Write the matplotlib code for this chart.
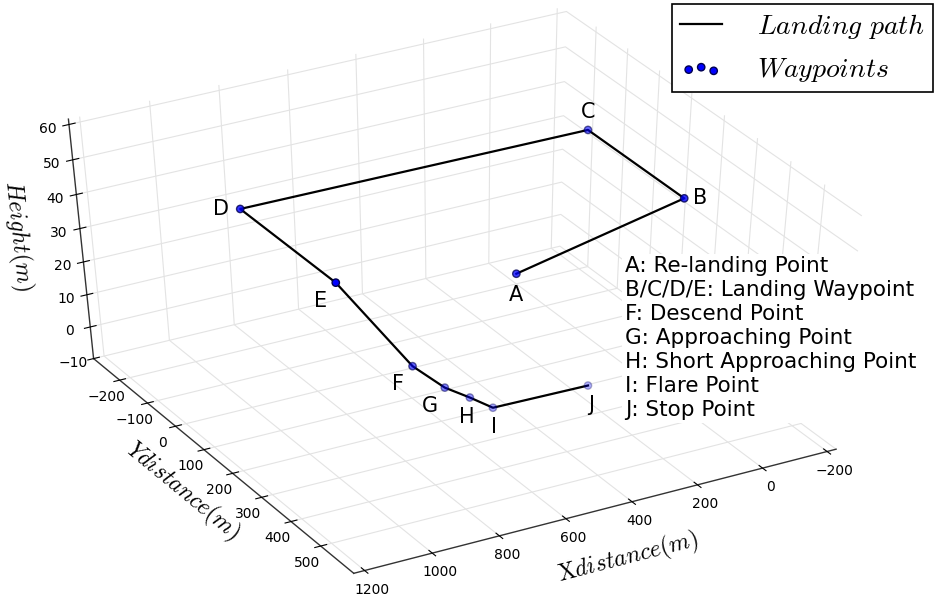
import matplotlib
matplotlib.use('Agg')
import numpy as np
from matplotlib import pyplot as plt
from mpl_toolkits.mplot3d import proj3d

plt.rcParams['mathtext.fontset'] = 'cm'
plt.rcParams['font.family'] = 'DejaVu Sans'
plt.rcParams['grid.color'] = '#e3e3e3'
plt.rcParams['grid.linewidth'] = 0.8

# waypoints A..J (landing path order)
labels = ['A', 'B', 'C', 'D', 'E', 'F', 'G', 'H', 'I', 'J']
x_dist = [470, 0, 0, 1000, 990, 775, 680, 605, 535, 250]
y_dist = [300, 320, 20, 0, 300, 300, 300, 300, 300, 305]
height = [39, 51, 51, 50, 49, 19, 10, 5, 0, 0]

descriptions = ['A: Re-landing Point',
                'B/C/D/E: Landing Waypoint',
                'F: Descend Point',
                'G: Approaching Point',
                'H: Short Approaching Point',
                'I: Flare Point',
                'J: Stop Point']

# label offsets in points (dx, dy, ha, va)
label_offsets = {'A': (0, -8, 'center', 'top'),
                 'B': (6, 0, 'left', 'center'),
                 'C': (0, 6, 'center', 'bottom'),
                 'D': (-8, 0, 'right', 'center'),
                 'E': (-6, -6, 'right', 'top'),
                 'F': (-6, -6, 'right', 'top'),
                 'G': (-5, -6, 'right', 'top'),
                 'H': (-2, -7, 'center', 'top'),
                 'I': (1, -7, 'center', 'top'),
                 'J': (2, -7, 'center', 'top')}

fig = plt.figure(figsize=(9.37, 6.15), dpi=100)
ax = fig.add_axes([-0.1706, -0.0586, 1.29, 1.15], projection='3d')
# let the 3d box stretch with the axes rectangle (old mpl look)
ax.apply_aspect = lambda position=None: None

ax.plot(x_dist, y_dist, height, color='black', linewidth=1.6, label=r'$Landing\ path$')
ax.scatter(x_dist, y_dist, height, color='blue', edgecolor='#000050', s=28,
           depthshade=True, label=r'$Waypoints$')

ax.set_xlim(-228, 1232)
ax.set_ylim(-295, 610)
ax.set_zlim(-10, 61.5)
ax.set_xticks(np.arange(-200, 1201, 200))
ax.set_yticks(np.arange(-200, 501, 100))
ax.set_zticks(np.arange(-10, 61, 10))
ax.tick_params(labelsize=10, pad=2)

ax.set_xlabel(r'$\mathrm{X}distance(m)$', fontsize=17, labelpad=18)
ax.set_ylabel(r'$Ydistance(m)$', fontsize=17, labelpad=8)
ax.set_zlabel(r'$Height(m)$', fontsize=17, labelpad=10)

for axis in (ax.xaxis, ax.yaxis, ax.zaxis):
    axis.set_pane_color((1, 1, 1, 0))
    axis.line.set_color('#333333')
    axis.line.set_linewidth(1.0)
    axis._axinfo['tick']['inward_factor'] = 0.15
    axis._axinfo['tick']['outward_factor'] = 0.15

ax.view_init(elev=47, azim=60.5)
ax.set_box_aspect((1, 1, 1.063), zoom=0.8)

# point labels
M = ax.get_proj()
for lab, xv, yv, zv in zip(labels, x_dist, y_dist, height):
    px, py, _ = proj3d.proj_transform(xv, yv, zv, M)
    dx, dy, ha, va = label_offsets[lab]
    ax.annotate(lab, xy=(px, py), xytext=(dx, dy), textcoords='offset points',
                ha=ha, va=va, fontsize=15)

fig.text(0.667, 0.583, '\n'.join(descriptions), fontsize=15.5, va='top', ha='left',
         linespacing=1.25, bbox=dict(facecolor='white', edgecolor='none', pad=2))

leg = ax.legend(loc='upper right', bbox_to_anchor=(0.996, 0.994), bbox_transform=fig.transFigure,
                scatterpoints=3, fancybox=False, framealpha=1, edgecolor='black',
                fontsize=20, borderaxespad=0, borderpad=0.3, handlelength=1.5,
                handletextpad=1.25)
leg.get_frame().set_linewidth(1.2)

plt.savefig('out.png', dpi=100)
